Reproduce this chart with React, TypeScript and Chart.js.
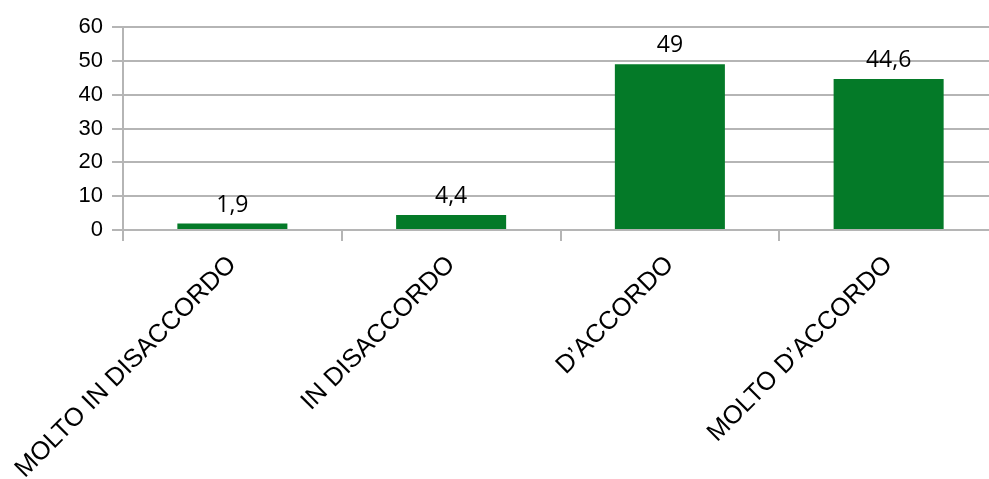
import React, { useEffect, useRef } from "react";
import { Chart, registerables } from "chart.js";

Chart.register(...registerables);

const categories = ["MOLTO IN DISACCORDO", "IN DISACCORDO", "D\u2019ACCORDO", "MOLTO D\u2019ACCORDO"];
const values = [1.9, 4.4, 49, 44.6];
const yTicks = [0, 10, 20, 30, 40, 50, 60];

const GRID = "#b5b5b5";
const BAR = "#047a28";
const AXIS_FONT = "'Liberation Sans', Arial, sans-serif";

const valueLabels = {
  id: "valueLabels",
  afterDatasetsDraw(chart: any) {
    const ctx = chart.ctx;
    const meta = chart.getDatasetMeta(0);
    ctx.save();
    ctx.font = "23px 'Open Sans', sans-serif";
    ctx.fillStyle = "#000";
    ctx.textAlign = "center";
    ctx.textBaseline = "alphabetic";
    meta.data.forEach((el: any, i: number) => {
      const txt = String(values[i]).replace(".", ",");
      ctx.fillText(txt, el.x, el.y - 12);
    });
    ctx.restore();
  },
};

export default function App() {
  const ref = useRef<HTMLCanvasElement>(null);
  useEffect(() => {
    if (!ref.current) return;
    const chart = new Chart(ref.current, {
      type: "bar",
      data: {
        labels: categories,
        datasets: [
          {
            data: values,
            backgroundColor: BAR,
            borderWidth: 0,
            categoryPercentage: 1,
            barPercentage: 0.503,
          },
        ],
      },
      options: {
        responsive: false,
        animation: false,
        layout: { padding: { top: 27, right: 2, left: 0, bottom: 0 } },
        plugins: { legend: { display: false }, tooltip: { enabled: false } },
        scales: {
          x: {
            offset: true,
            grid: {
              offset: true,
              drawOnChartArea: false,
              drawTicks: true,
              tickLength: 11,
              color: GRID,
              lineWidth: 2,
            },
            border: { display: true, color: GRID, width: 2 },
            ticks: {
              autoSkip: false,
              minRotation: 45,
              maxRotation: 45,
              padding: 9,
              color: "#000",
              font: { family: AXIS_FONT, size: 25.5 },
            },
            afterFit(scale: any) {
              scale.height = 249;
              scale.paddingLeft = 0;
              scale.paddingRight = 0;
            },
          },
          y: {
            min: 0,
            max: 60,
            afterBuildTicks(scale: any) {
              scale.ticks = yTicks.map((v) => ({ value: v }));
            },
            grid: {
              color: GRID,
              lineWidth: 2,
              tickLength: 11,
            },
            border: { display: true, color: GRID, width: 2 },
            ticks: {
              padding: 9,
              color: "#000",
              font: { family: AXIS_FONT, size: 22 },
            },
            afterFit(scale: any) {
              scale.width = 123;
              scale.paddingTop = 0;
              scale.paddingBottom = 0;
            },
          },
        },
      },
      plugins: [valueLabels],
    });
    return () => chart.destroy();
  }, []);
  return (
    <div style={{ position: "fixed", left: 0, top: 0, width: 989, height: 479, overflow: "hidden", background: "#fff" }}>
      <canvas ref={ref} width={1000} height={479} style={{ width: 1000, height: 479, display: "block" }} />
    </div>
  );
}
